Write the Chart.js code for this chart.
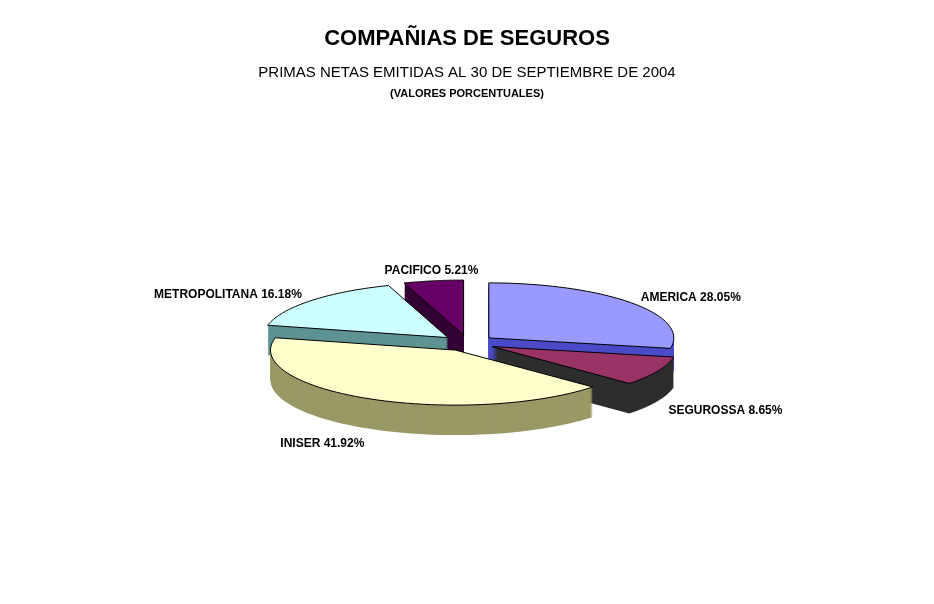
<!DOCTYPE html>
<html>
<head>
<meta charset="utf-8">
<script src="https://cdn.jsdelivr.net/npm/chart.js@4/dist/chart.umd.min.js"></script>
<style>
  body { margin: 0; background: #fff; }
  #wrap { width: 934px; height: 604px; }
</style>
</head>
<body>
<div id="wrap"><canvas id="c"></canvas></div>
<script>
const labels = ['AMERICA', 'SEGUROSSA', 'INISER', 'METROPOLITANA', 'PACIFICO'];
const values = [28.05, 8.65, 41.92, 16.18, 5.21];
const topColors = ['#9999FF', '#993366', '#FFFFCC', '#CCFFFF', '#660066'];
const sideColors = ['#4B4BC8', '#2E2E2E', '#999966', '#5E9393', '#330033'];

// draws the pie as a tilted, extruded 3D pie
const pie3d = {
  id: 'pie3d',
  beforeDatasetsDraw(chart) {
    const ctx = chart.ctx;
    const arcs = chart.getDatasetMeta(0).data;
    const R0 = arcs[0].outerRadius;
    const sx = 185 / R0, sy = 55 / R0, depth = 30;

    const pts = arcs.map((a, i) => {
      const mid = (a.startAngle + a.endAngle) / 2;
      const off = a.options.offset;
      return { a, i, mid, ox: a.x + Math.cos(mid) * off * sx, oy: a.y + Math.sin(mid) * off * sy };
    });

    function slicePath(p, dy) {
      const { a } = p;
      ctx.beginPath();
      ctx.moveTo(p.ox, p.oy + dy);
      const steps = 60;
      for (let s = 0; s <= steps; s++) {
        const t = a.startAngle + (a.endAngle - a.startAngle) * s / steps;
        ctx.lineTo(p.ox + Math.cos(t) * R0 * sx, p.oy + Math.sin(t) * R0 * sy + dy);
      }
      ctx.closePath();
    }

    const order = pts.slice().sort((u, v) => Math.sin(u.mid) - Math.sin(v.mid));
    ctx.save();
    ctx.strokeStyle = '#000'; ctx.lineWidth = 1;
    order.forEach(p => {
      ctx.fillStyle = sideColors[p.i];
      for (let d = depth; d > 0; d--) { slicePath(p, d); ctx.fill(); }
      slicePath(p, 0);
      ctx.fillStyle = topColors[p.i]; ctx.fill();
      ctx.stroke();
    });

    // labels
    ctx.font = 'bold 12px "Liberation Sans", Arial, sans-serif';
    ctx.fillStyle = '#000';
    ctx.textBaseline = 'middle';
    pts.forEach(p => {
      const c = Math.cos(p.mid), s = Math.sin(p.mid);
      const x = p.ox + c * (R0 * sx + 12);
      const y = p.oy + s * (R0 * sy + 12) + (s > 0 ? depth + 4 : 2);
      ctx.textAlign = Math.abs(c) < 0.3 ? 'center' : (c > 0 ? 'left' : 'right');
      ctx.fillText(labels[p.i] + ' ' + values[p.i].toFixed(2) + '%', x, y);
    });

    // titles
    ctx.textAlign = 'center';
    ctx.font = 'bold 22px "Liberation Sans", Arial, sans-serif';
    ctx.fillText('COMPAÑIAS DE SEGUROS', 467, 39);
    ctx.font = '15px "Liberation Sans", Arial, sans-serif';
    ctx.fillText('PRIMAS NETAS EMITIDAS AL 30 DE SEPTIEMBRE DE 2004', 467, 73);
    ctx.font = 'bold 11px "Liberation Sans", Arial, sans-serif';
    ctx.fillText('(VALORES PORCENTUALES)', 467, 94);
    ctx.restore();
    return false;
  }
};

new Chart(document.getElementById('c'), {
  type: 'pie',
  data: {
    labels,
    datasets: [{ data: values, backgroundColor: topColors, offset: 14, borderWidth: 0 }]
  },
  options: {
    responsive: true,
    maintainAspectRatio: false,
    animation: false,
    layout: { padding: { left: 300, right: 298, top: 240, bottom: 158 } },
    plugins: { legend: { display: false }, tooltip: { enabled: false } }
  },
  plugins: [pie3d]
});
</script>
</body>
</html>
